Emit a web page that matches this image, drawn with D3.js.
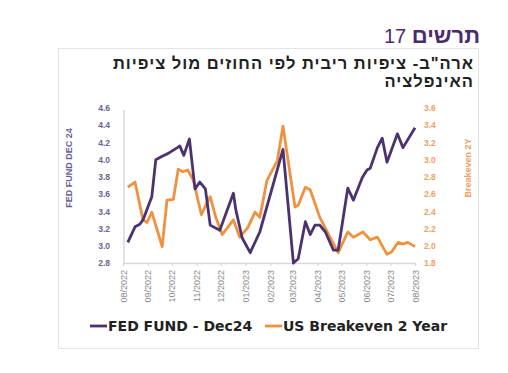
<!DOCTYPE html>
<html>
<head>
<meta charset="utf-8">
<script src="https://cdn.jsdelivr.net/npm/d3@7"></script>
<style>
  body { margin: 0; background: #fff; }
  svg { display: block; }
</style>
</head>
<body>
<svg width="508" height="373"></svg>
<script>
// FED FUND - Dec24 (left axis)
const fedDates = ["2022-08-07","2022-08-16","2022-08-22","2022-08-26","2022-09-06","2022-09-11","2022-09-19","2022-09-26",
  "2022-10-08","2022-10-11","2022-10-16","2022-10-23","2022-10-30","2022-11-05","2022-11-12","2022-11-18","2022-11-30",
  "2022-12-17","2022-12-20","2022-12-28","2023-01-07","2023-01-19","2023-02-17","2023-03-02","2023-03-08","2023-03-17",
  "2023-03-23","2023-03-29","2023-04-04","2023-04-11","2023-04-21","2023-04-27","2023-05-09","2023-05-16","2023-05-27",
  "2023-06-02","2023-06-06","2023-06-15","2023-06-21","2023-06-27","2023-07-10","2023-07-17","2023-08-01"];
const fedValues = [3.04,3.22,3.25,3.30,3.57,4.00,4.04,4.07,
  4.14,4.16,4.05,4.24,3.66,3.74,3.66,3.24,3.18,
  3.61,3.42,3.09,2.92,3.16,4.12,2.80,2.85,3.28,
  3.13,3.24,3.24,3.16,2.95,2.95,3.67,3.53,3.79,
  3.88,3.90,4.14,4.25,3.97,4.30,4.14,4.37];

// US Breakeven 2 Year (right axis)
const beDates = ["2022-08-07","2022-08-16","2022-08-26","2022-08-31","2022-09-06","2022-09-19","2022-09-25","2022-10-03",
  "2022-10-09","2022-10-15","2022-10-21","2022-10-28","2022-11-07","2022-11-14","2022-11-18","2022-11-25","2022-12-03",
  "2022-12-17","2022-12-25","2023-01-04","2023-01-13","2023-01-19","2023-01-28","2023-02-10","2023-02-17","2023-03-04",
  "2023-03-08","2023-03-17","2023-03-23","2023-04-04","2023-04-14","2023-04-27","2023-05-09","2023-05-16","2023-05-28",
  "2023-06-06","2023-06-15","2023-06-27","2023-07-03","2023-07-11","2023-07-17","2023-07-23","2023-08-01"];
const beValues = [2.68,2.74,2.30,2.27,2.39,1.99,2.53,2.54,
  2.89,2.86,2.88,2.76,2.36,2.50,2.57,2.33,2.13,
  2.30,2.10,2.21,2.39,2.33,2.76,2.99,3.39,2.45,
  2.47,2.68,2.65,2.33,2.15,1.92,2.16,2.10,2.16,
  2.07,2.10,1.90,1.93,2.04,2.02,2.04,1.99];

const leftTicks = [2.8,3.0,3.2,3.4,3.6,3.8,4.0,4.2,4.4,4.6];
const rightTicks = [1.8,2.0,2.2,2.4,2.6,2.8,3.0,3.2,3.4,3.6];
const monthTicks = ["2022-08-01","2022-09-01","2022-10-01","2022-11-01","2022-12-01","2023-01-01","2023-02-01",
  "2023-03-01","2023-04-01","2023-05-01","2023-06-01","2023-07-01","2023-08-01"];

const purple = "#4b3370";
const orange = "#f0913f";
const parse = d3.timeParse("%Y-%m-%d");
const sans = "'DejaVu Sans', Verdana, sans-serif";
const arial = "Arial, 'Liberation Sans', sans-serif";

const svg = d3.select("svg");

// frame
svg.append("rect")
  .attr("x", 58.5).attr("y", 48.5).attr("width", 420).attr("height", 300)
  .attr("fill", "none").attr("stroke", "#e4e4e4");

// headings
svg.append("text")
  .attr("x", 480).attr("y", 43)
  .attr("text-anchor", "start").attr("direction", "rtl")
  .attr("font-family", arial)
  .attr("font-size", 20).attr("fill", "#4b2b6e")
  .html('<tspan font-weight="bold" font-size="22">תרשים</tspan> 17');

const titleLines = ['ארה"ב- ציפיות ריבית לפי החוזים מול ציפיות', "האינפלציה"];
svg.append("g").selectAll("text")
  .data(titleLines).enter().append("text")
  .attr("x", 474).attr("y", (d, i) => 69 + i * 18)
  .attr("text-anchor", "start").attr("direction", "rtl")
  .attr("font-family", arial)
  .attr("font-weight", "bold").attr("font-size", 16.5).attr("fill", "#222")
  .attr("letter-spacing", 1)
  .text(d => d);

const x = d3.scaleTime()
  .domain([parse("2022-08-01"), parse("2023-08-01")])
  .range([123, 415]);
const yL = d3.scaleLinear().domain([2.8, 4.6]).range([263, 108]);
const yR = d3.scaleLinear().domain([1.8, 3.6]).range([263, 108]);

// axis lines
svg.append("line")
  .attr("x1", 124).attr("x2", 124).attr("y1", 110).attr("y2", 263)
  .attr("stroke", "#d9d9d9").attr("stroke-width", 1.5);

const xAxis = svg.append("g")
  .attr("transform", "translate(0,263)")
  .call(d3.axisBottom(x)
    .tickValues(monthTicks.map(parse))
    .tickSize(3)
    .tickFormat(d3.timeFormat("%m/%Y")));
xAxis.select(".domain").attr("stroke", "#d9d9d9").attr("stroke-width", 1.5);
xAxis.selectAll(".tick line").attr("stroke", "#d9d9d9");
xAxis.selectAll(".tick text")
  .attr("transform", "rotate(-90)")
  .attr("x", -7).attr("y", 0).attr("dy", "0.35em")
  .attr("text-anchor", "end")
  .attr("font-family", arial)
  .attr("font-size", 9).attr("fill", "#8a8a8a");

const leftAxis = svg.append("g")
  .attr("transform", "translate(113,0)")
  .call(d3.axisLeft(yL).tickValues(leftTicks).tickSize(0).tickFormat(d3.format(".1f")));
leftAxis.select(".domain").remove();
leftAxis.selectAll("text")
  .attr("font-family", arial)
  .attr("font-weight", "bold").attr("font-size", 8.5).attr("fill", "#6e5f92");

const rightAxis = svg.append("g")
  .attr("transform", "translate(421,0)")
  .call(d3.axisRight(yR).tickValues(rightTicks).tickSize(0).tickFormat(d3.format(".1f")));
rightAxis.select(".domain").remove();
rightAxis.selectAll("text")
  .attr("font-family", arial)
  .attr("font-weight", "bold").attr("font-size", 8.5).attr("fill", "#f0a060");

// axis titles
svg.append("text")
  .attr("transform", "translate(72,168) rotate(-90)")
  .attr("text-anchor", "middle")
  .attr("font-family", arial)
  .attr("font-weight", "bold").attr("font-size", 9).attr("fill", "#6e5f92")
  .text("FED FUND DEC 24");
svg.append("text")
  .attr("transform", "translate(471,168) rotate(-90)")
  .attr("text-anchor", "middle")
  .attr("font-family", arial)
  .attr("font-weight", "bold").attr("font-size", 9).attr("fill", "#f0a060")
  .text("Breakeven 2Y");

// lines
const fed = fedDates.map((d, i) => ({ date: parse(d), v: fedValues[i] }));
const be = beDates.map((d, i) => ({ date: parse(d), v: beValues[i] }));

svg.append("path")
  .datum(be)
  .attr("fill", "none").attr("stroke", orange).attr("stroke-width", 2.8)
  .attr("stroke-linejoin", "round")
  .attr("d", d3.line().x(d => x(d.date)).y(d => yR(d.v)));

svg.append("path")
  .datum(fed)
  .attr("fill", "none").attr("stroke", purple).attr("stroke-width", 2.8)
  .attr("stroke-linejoin", "round")
  .attr("d", d3.line().x(d => x(d.date)).y(d => yL(d.v)));

// legend
const legend = [
  { name: "FED FUND - Dec24", color: purple, x: 90 },
  { name: "US Breakeven 2 Year", color: orange, x: 265 }
];
const lg = svg.append("g").selectAll("g").data(legend).enter().append("g")
  .attr("transform", d => `translate(${d.x},331)`);
lg.append("line")
  .attr("x1", 0).attr("x2", 17).attr("y1", -5).attr("y2", -5)
  .attr("stroke", d => d.color).attr("stroke-width", 2.8);
lg.append("text")
  .attr("x", 18).attr("y", 0)
  .attr("font-family", sans)
  .attr("font-weight", "bold").attr("font-size", 14).attr("fill", "#222")
  .text(d => d.name);
</script>
</body>
</html>
